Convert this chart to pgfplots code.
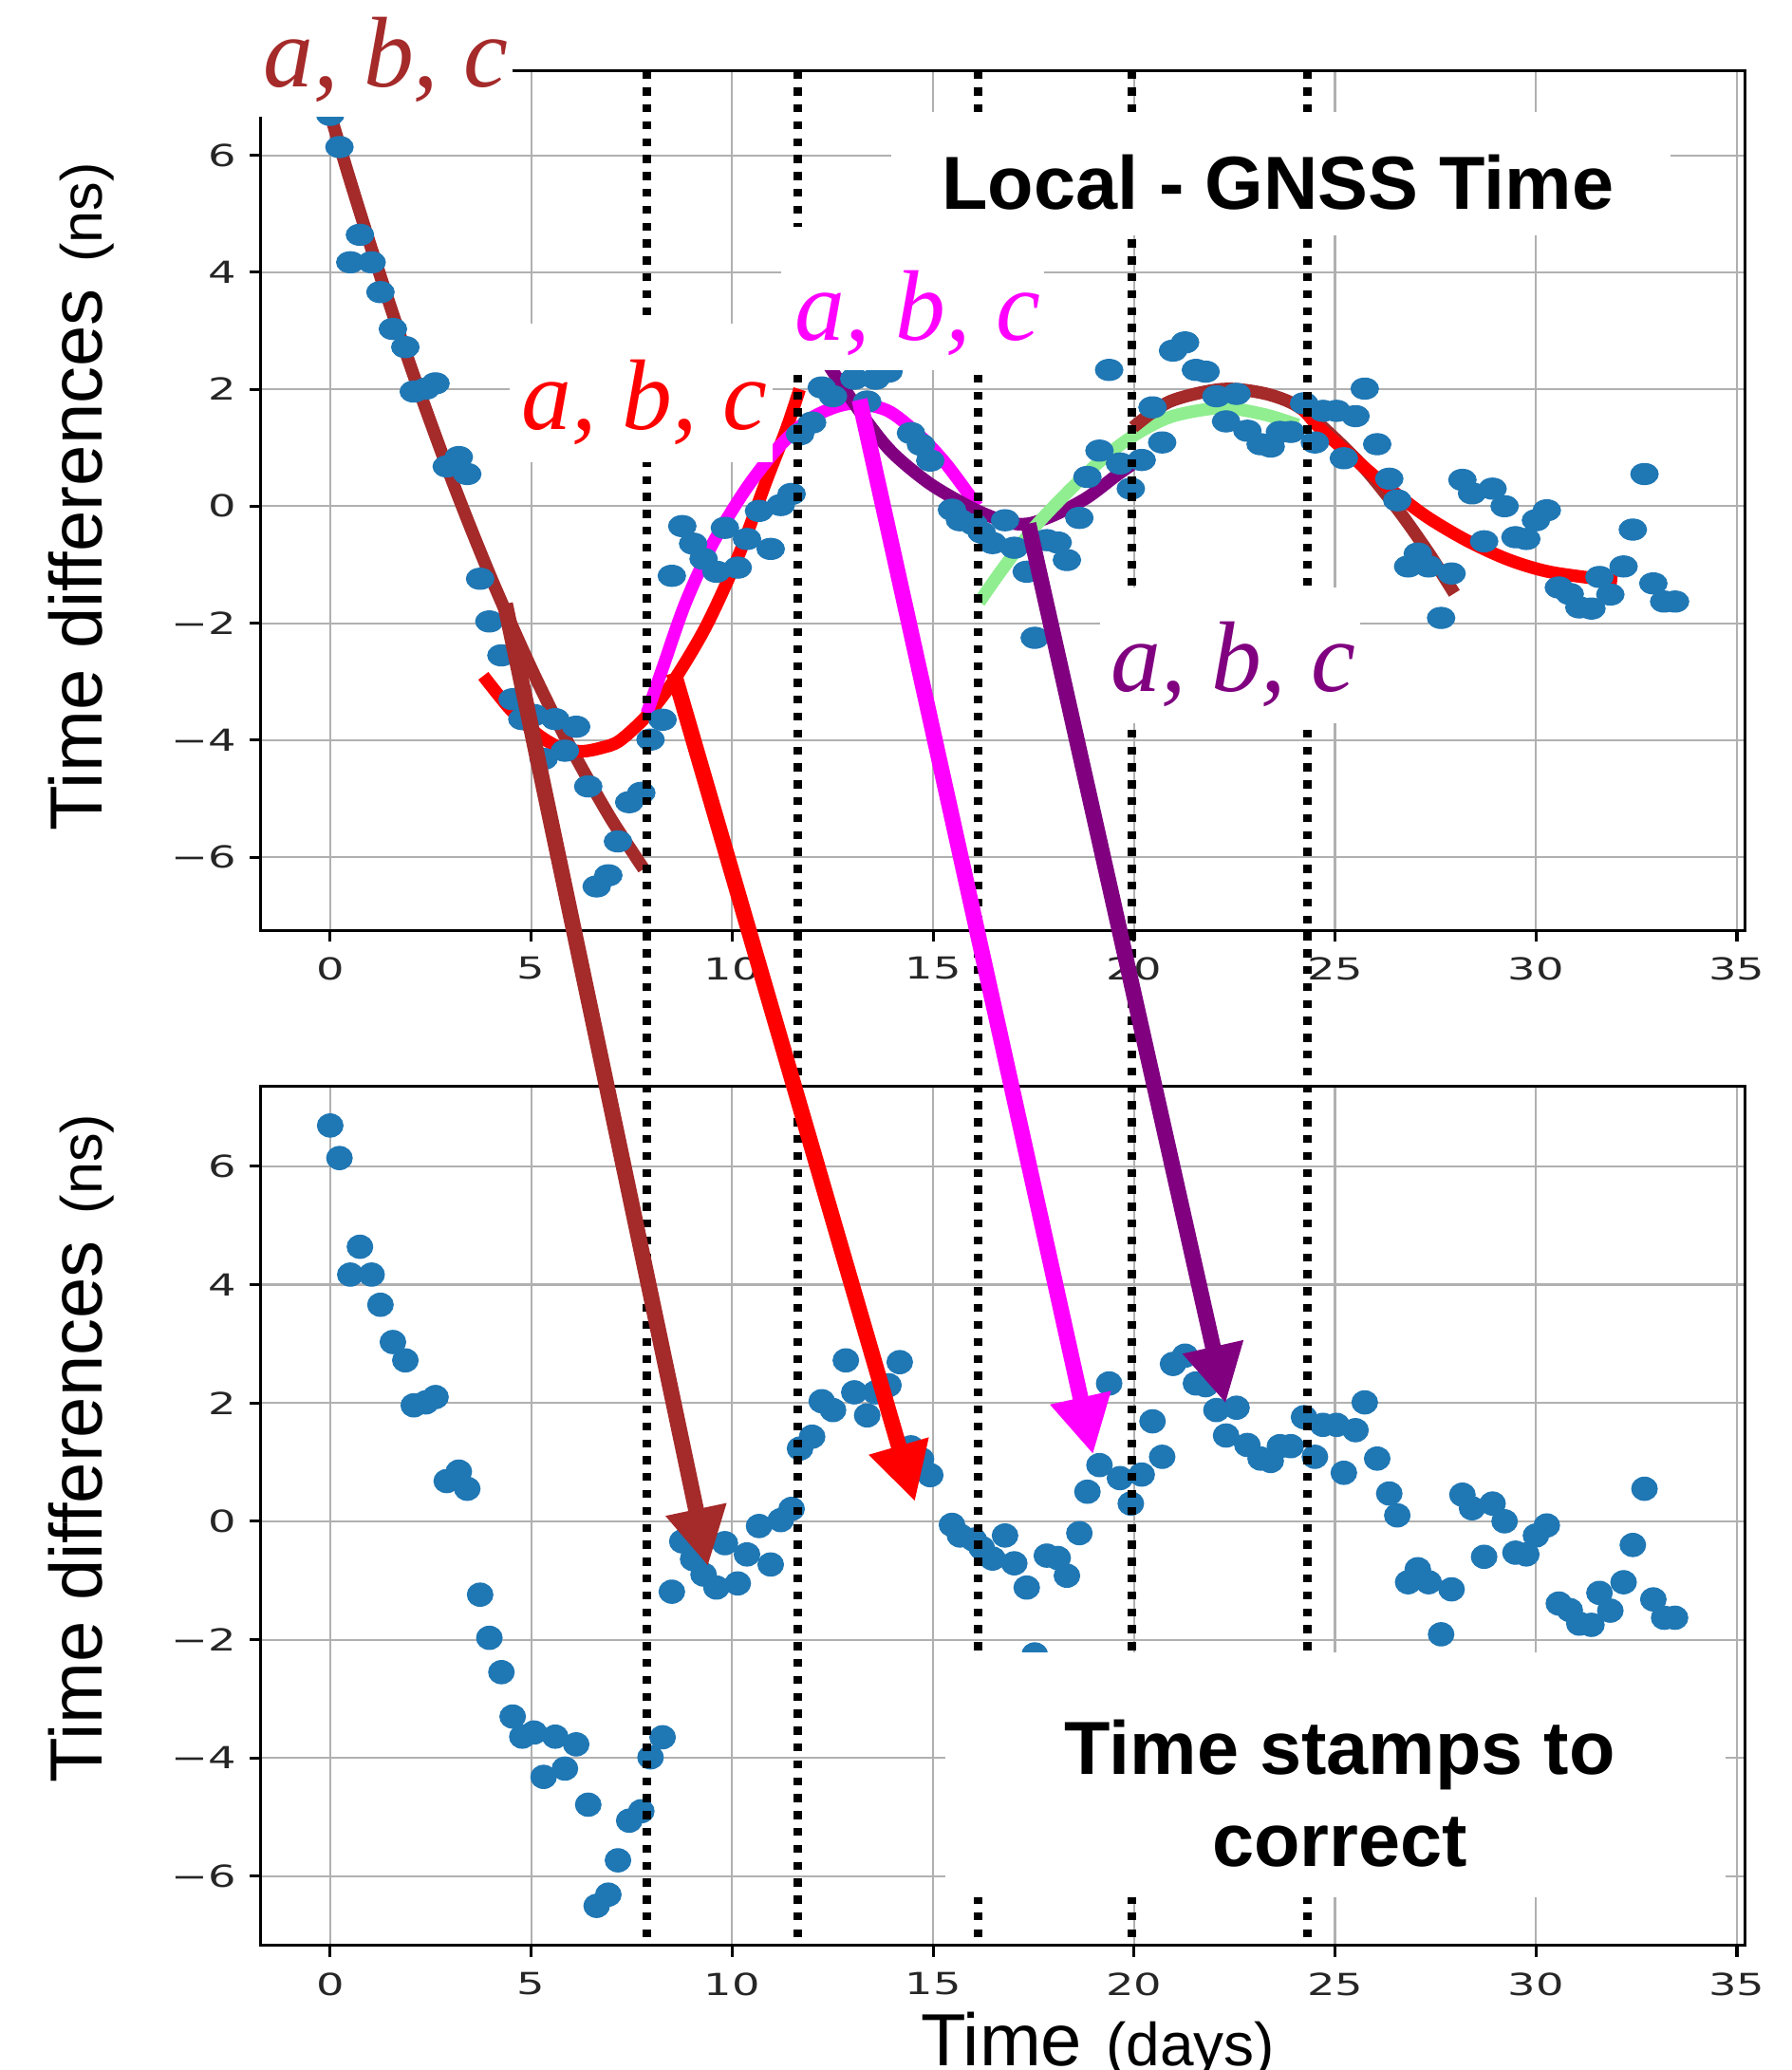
\documentclass[border=0pt]{standalone}
\usepackage{fontspec}
\setmainfont{Liberation Sans}
\newfontfamily\dejavu{DejaVu Sans}
\newfontfamily\serifit{Liberation Serif}
\usepackage{pgfplots}
\usepackage{pgfplotstable}
\pgfplotsset{compat=1.18}
\usetikzlibrary{arrows.meta}

\definecolor{dotblue}{HTML}{1F77B4}
\definecolor{fitbrown}{HTML}{A52A2A}
\definecolor{fitred}{HTML}{FF0000}
\definecolor{fitmag}{HTML}{FF00FF}
\definecolor{fitpurple}{HTML}{800080}
\definecolor{fitgreen}{HTML}{90EE90}
\definecolor{gridgray}{HTML}{B0B0B0}

% local - GNSS time differences (ns) against time (days)
\pgfplotstableread{
t d
0.00 6.69
0.23 6.14
0.50 4.17
0.74 4.64
1.03 4.17
1.25 3.66
1.56 3.03
1.87 2.72
2.08 1.96
2.38 2.01
2.62 2.10
2.90 0.68
3.20 0.84
3.41 0.55
3.73 -1.24
3.96 -1.97
4.26 -2.55
4.54 -3.30
4.78 -3.64
5.07 -3.57
5.31 -4.32
5.60 -3.64
5.84 -4.18
6.12 -3.77
6.42 -4.79
6.63 -6.50
6.92 -6.31
7.16 -5.73
7.44 -5.06
7.74 -4.90
7.97 -3.99
8.27 -3.65
8.50 -1.19
8.76 -0.34
9.03 -0.64
9.29 -0.90
9.61 -1.12
9.82 -0.37
10.14 -1.05
10.37 -0.56
10.67 -0.08
10.96 -0.73
11.21 0.02
11.48 0.21
11.69 1.23
11.99 1.43
12.23 2.03
12.51 1.88
12.83 2.72
13.04 2.18
13.36 1.79
13.57 2.18
13.89 2.30
14.17 2.69
14.45 1.25
14.70 1.05
14.93 0.78
15.47 -0.06
15.67 -0.24
16.01 -0.31
16.21 -0.45
16.48 -0.63
16.79 -0.24
17.02 -0.71
17.33 -1.12
17.53 -2.25
17.83 -0.58
18.10 -0.62
18.33 -0.92
18.64 -0.20
18.84 0.50
19.14 0.95
19.38 2.33
19.65 0.73
19.92 0.30
20.19 0.79
20.46 1.69
20.70 1.09
20.97 2.66
21.27 2.80
21.54 2.33
21.78 2.30
22.05 1.88
22.29 1.45
22.55 1.92
22.82 1.29
23.15 1.06
23.40 1.02
23.63 1.27
23.90 1.27
24.23 1.76
24.50 1.09
24.70 1.63
25.04 1.63
25.22 0.82
25.51 1.54
25.74 2.01
26.05 1.06
26.35 0.47
26.55 0.10
26.82 -1.03
27.06 -0.81
27.33 -1.03
27.64 -1.91
27.90 -1.15
28.17 0.45
28.41 0.22
28.71 -0.60
28.92 0.30
29.22 0.00
29.49 -0.53
29.76 -0.56
30.00 -0.24
30.27 -0.07
30.57 -1.39
30.84 -1.50
31.08 -1.73
31.38 -1.75
31.58 -1.21
31.85 -1.51
32.18 -1.03
32.41 -0.40
32.70 0.55
32.92 -1.32
33.19 -1.63
33.46 -1.63
}\tdiff

\pgfplotsset{
  tdaxis/.style={
    scale only axis,
    width=562.1pt,
    xmin=-1.728, xmax=35.2,
    xtick={0,5,...,35},
    xticklabels={0,5,10,15,20,25,30,35},
    ytick={-6,-4,...,6},
    yticklabels={−6,−4,−2,0,2,4,6},
    grid=major,
    major grid style={gridgray, line width=0.75pt},
    axis line style={black, line width=1.1pt},
    tick style={black, line width=1.1pt},
    tick align=outside,
    major tick length=4.2pt,
    xtick pos=bottom, ytick pos=left,
    xticklabel style={font=\dejavu\fontsize{11.5}{13}\selectfont, xscale=1.45,
      text=black!85, yshift=-2.5pt},
    yticklabel style={font=\dejavu\fontsize{11.5}{13}\selectfont, xscale=1.45,
      text=black!85},
  },
  fit/.style={line width=4.8pt, smooth, no marks},
}

\begin{document}
\begin{tikzpicture}
\path[use as bounding box] (0,0) rectangle (678.5pt,784pt);
\clip (0,0) rectangle (678.5pt,784pt);

% upper panel: data with the local fits
\begin{axis}[tdaxis, at={(98.75pt,431.65pt)}, anchor=south west,
  height=325.6pt, ymin=-7.25, ymax=7.447]
  \addplot[only marks, dotblue, mark=*, mark size=4pt,
    mark options={xscale=1.3}] table[x=t, y=d] {\tdiff};
  \addplot[fit, fitbrown] coordinates {(0,6.70) (0.5,5.56) (1,4.46) (1.5,3.41) (2,2.39)
    (2.5,1.43) (3,0.50) (3.5,-0.38) (4,-1.22) (4.5,-2.01) (5,-2.77) (5.5,-3.48)
    (6,-4.15) (6.5,-4.77) (7,-5.36) (7.5,-5.89) (7.8,-6.20)};
  \addplot[fit, fitred] coordinates {(3.81,-2.90) (4.48,-3.47) (5.16,-3.90) (5.7,-4.12)
    (6.25,-4.19) (6.75,-4.13) (7.20,-4.01) (7.88,-3.58) (8.56,-2.97) (9.37,-2.03)
    (10.18,-0.81) (10.86,0.45) (11.34,1.30) (11.68,2.0)};
  \addplot[fit, fitmag] coordinates {(7.88,-3.54) (8.28,-2.75) (8.83,-1.67) (9.5,-0.66)
    (10.32,0.27) (11.13,0.99) (11.95,1.50) (12.90,1.75) (13.85,1.64) (14.66,1.21)
    (15.34,0.71) (16.1,0.0)};
  \addplot[fit, fitpurple] coordinates {(12.25,2.6) (12.48,2.33) (13.30,1.50) (13.98,0.92)
    (14.93,0.38) (16.02,-0.05) (16.83,-0.27) (17.37,-0.30) (18.05,-0.14) (18.84,0.15)
    (19.55,0.52) (20.05,0.76)};
  \addplot[fit, fitgreen] coordinates {(16.15,-1.64) (16.70,-1.10) (17.51,-0.37)
    (18.32,0.22) (19.14,0.76) (19.93,1.18) (20.92,1.53) (22.18,1.68) (23.23,1.57)
    (24.08,1.39)};
  \addplot[fit, fitbrown] coordinates {(19.98,1.35) (20.89,1.79) (22.18,2.0) (23.23,1.93)
    (24.07,1.71) (24.92,1.21) (25.76,0.63) (26.6,-0.09) (27.34,-0.81) (27.97,-1.49)};
  \addplot[fit, fitred] coordinates {(23.97,1.86) (24.6,1.35) (25.34,0.90) (26.18,0.40)
    (27.24,-0.16) (28.29,-0.59) (29.34,-0.92) (30.39,-1.13) (32.02,-1.28)};
  % window limits and arrow starts
  \coordinate (vt1) at (axis cs:7.88,7.447);
  \coordinate (vt2) at (axis cs:11.63,7.447);
  \coordinate (vt3) at (axis cs:16.13,7.447);
  \coordinate (vt4) at (axis cs:19.94,7.447);
  \coordinate (vt5) at (axis cs:24.31,7.447);
  \coordinate (as1) at (axis cs:4.35,-1.67);
  \coordinate (as2) at (axis cs:8.55,-2.85);
  \coordinate (as3) at (axis cs:13.17,1.82);
  \coordinate (as4) at (axis cs:17.37,-0.30);
\end{axis}

% lower panel: the same data
\begin{axis}[tdaxis, at={(98.75pt,47.15pt)}, anchor=south west,
  height=325.35pt, ymin=-7.17, ymax=7.35]
  \addplot[only marks, dotblue, mark=*, mark size=4.4pt,
    mark options={xscale=1.1}] table[x=t, y=d] {\tdiff};
  \coordinate (vb1) at (axis cs:7.88,-7.10);
  \coordinate (vb2) at (axis cs:11.63,-7.10);
  \coordinate (vb3) at (axis cs:16.13,-7.10);
  \coordinate (vb4) at (axis cs:19.94,-7.10);
  \coordinate (vb5) at (axis cs:24.31,-7.10);
  \coordinate (ae1) at (axis cs:9.40,-0.76);
  \coordinate (ae2) at (axis cs:14.55,0.33);
  \coordinate (ae3) at (axis cs:18.98,1.13);
  \coordinate (ae4) at (axis cs:22.28,1.99);
\end{axis}

\foreach \i in {1,...,5}
  \draw[black, line width=3.2pt, dash pattern=on 3pt off 3.4pt] (vt\i) -- (vb\i);

\tikzset{bigarrow/.style={line width=6pt, -{Triangle[length=22pt,width=22pt]}}}
\draw[fitbrown, bigarrow] (as1) -- (ae1);
\draw[fitred, bigarrow] (as2) -- (ae2);
\draw[fitmag, bigarrow] (as3) -- (ae3);
\draw[fitpurple, bigarrow] (as4) -- (ae4);

% labels on white boxes, placed in the page's pixel grid
\begin{scope}[x=0.5pt, y=-0.5pt, yshift=784pt]
  \fill[white] (140,-5) rectangle (388,88.5);
  \fill[white] (386,245) rectangle (585,350);
  \fill[white] (592,172) rectangle (791,280.5);
  \fill[white] (675,85) rectangle (1265,178);
  \fill[white] (833,445) rectangle (1030,548);
  \fill[white] (716,1252) rectangle (1307,1437);

  \tikzset{abc/.style={anchor=base west, inner sep=0pt,
    font=\serifit\itshape\fontsize{38}{38}\selectfont}}
  \node[abc, text=fitbrown] at (199,65.5) {a, b, c};
  \node[abc, text=fitred] at (395,325) {a, b, c};
  \node[abc, text=fitmag] at (602,257.6) {a, b, c};
  \node[abc, text=fitpurple] at (841,524) {a, b, c};

  \node[anchor=base west, inner sep=0pt, font=\bfseries\fontsize{28.5}{30}\selectfont]
    at (713,158.2) {Local - GNSS Time};
  \node[anchor=base, inner sep=0pt, font=\bfseries\fontsize{28.5}{30}\selectfont]
    at (1015,1344) {Time stamps to};
  \node[anchor=base, inner sep=0pt, font=\bfseries\fontsize{28.5}{30}\selectfont]
    at (1015,1414) {correct};

  \node[anchor=base west, inner sep=0pt, rotate=90, font=\fontsize{28}{30}\selectfont]
    at (77,630) {Time differences\hspace{10pt}{\fontsize{22}{24}\selectfont(ns)}};
  \node[anchor=base west, inner sep=0pt, rotate=90, font=\fontsize{28}{30}\selectfont]
    at (77,1351) {Time differences\hspace{10pt}{\fontsize{22}{24}\selectfont(ns)}};
  \node[anchor=base west, inner sep=0pt, font=\fontsize{28}{30}\selectfont]
    at (697,1565) {Time\hspace{9pt}{\fontsize{23}{25}\selectfont(days)}};
\end{scope}
\end{tikzpicture}
\end{document}
